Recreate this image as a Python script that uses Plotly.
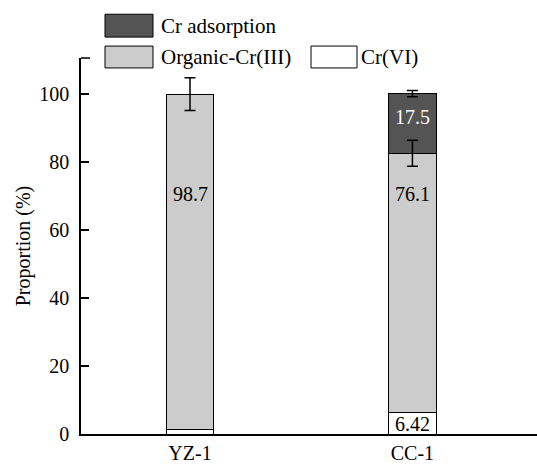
import plotly.graph_objects as go

categories = ["YZ-1", "CC-1"]
cr6 = [1.2, 6.42]
organic = [98.7, 76.1]
adsorption = [0, 17.5]
organic_err = [4.8, 3.8]
adsorption_err = [0, 0.9]
cr6_labels = ["", "6.42"]
organic_labels = ["98.7", "76.1"]
adsorption_labels = ["", "17.5"]
yticks = [0, 20, 40, 60, 80, 100]

FONT = "Liberation Serif"
DARK = "#545454"
LIGHT = "#cccccc"
W, H = 537, 464
L, R, T, B = 81, 0, 58, 28
PW, PH = W - L - R, H - T - B
FS = 20

def px(x):
    return (x - L) / PW

def py(y):
    return (H - B - y) / PH

fig = go.Figure()
bw = 0.212
fig.add_bar(x=categories, y=cr6, name="Cr(VI)", marker=dict(color="white", line=dict(color="black", width=1)), width=bw)
fig.add_bar(x=categories, y=organic, name="Organic-Cr(III)",
            marker=dict(color=LIGHT, line=dict(color="black", width=1)), width=bw)
fig.add_bar(x=categories, y=adsorption, name="Cr adsorption",
            marker=dict(color=DARK, line=dict(color="black", width=1)), width=bw)

# error bars drawn on top of all bars
org_top = [a + b for a, b in zip(cr6, organic)]
ads_top = [a + b for a, b in zip(org_top, adsorption)]
fig.add_scatter(x=categories, y=org_top, mode="markers", marker=dict(size=1, opacity=0),
                error_y=dict(type="data", array=organic_err, color="black", thickness=1.5, width=5.5),
                hoverinfo="skip")
ads_x = [c for c, e in zip(categories, adsorption_err) if e > 0]
ads_y = [t for t, e in zip(ads_top, adsorption_err) if e > 0]
ads_e = [e for e in adsorption_err if e > 0]
fig.add_scatter(x=ads_x, y=ads_y, mode="markers", marker=dict(size=1, opacity=0),
                error_y=dict(type="data", array=ads_e, color="black", thickness=1.5, width=5.5),
                hoverinfo="skip")

# value labels
for i, c in enumerate(categories):
    if organic_labels[i]:
        fig.add_annotation(x=c, y=70.5, text=organic_labels[i], showarrow=False, font=dict(family=FONT, size=FS, color="black"))
    if adsorption_labels[i]:
        fig.add_annotation(x=c, y=org_top[i] + adsorption[i] / 2 + 1.8, text=adsorption_labels[i], showarrow=False, font=dict(family=FONT, size=FS, color="white"))
    if cr6_labels[i]:
        fig.add_annotation(x=c, y=cr6[i] / 2 - 0.2, text=cr6_labels[i], showarrow=False, font=dict(family=FONT, size=FS, color="black"))

# custom legend
legend_items = [
    ("Cr adsorption", DARK, 105, 153, 14, 37, 6),
    ("Organic-Cr(III)", LIGHT, 105, 153, 46, 68, 6),
    ("Cr(VI)", "white", 311, 357, 46, 68, 2),
]
for name, col, x0, x1, y0, y1, gap in legend_items:
    fig.add_shape(type="rect", xref="paper", yref="paper", x0=px(x0), x1=px(x1), y0=py(y1), y1=py(y0),
                  fillcolor=col, line=dict(color="black", width=1))
    fig.add_annotation(xref="paper", yref="paper", x=px(x1 + gap), y=py((y0 + y1) / 2), text=name,
                       showarrow=False, xanchor="left", yanchor="middle", font=dict(family=FONT, size=21, color="black"))

# top tick mark on y axis
fig.add_shape(type="line", xref="paper", yref="paper", x0=0, x1=px(L + 9), y0=1, y1=1, line=dict(color="black", width=1.5))

fig.update_layout(
    width=W, height=H, barmode="stack", showlegend=False,
    margin=dict(l=L, r=R, t=T, b=B),
    plot_bgcolor="white", paper_bgcolor="white",
    font=dict(family=FONT, size=FS, color="black"),
    xaxis=dict(range=[-0.49, 1.56], showline=True, linecolor="black", linewidth=1.5, ticks="",
               tickfont=dict(family=FONT, size=FS), showgrid=False, zeroline=False),
    yaxis=dict(range=[0, 110.5], tickvals=yticks, showline=True, linecolor="black", linewidth=1.5,
               ticks="inside", ticklen=8, tickwidth=1.5, tickcolor="black", ticklabelstandoff=6,
               tickfont=dict(family=FONT, size=FS), showgrid=False, zeroline=False,
               title=dict(text="Proportion (%)", font=dict(family=FONT, size=FS), standoff=3)),
)

fig.write_html("out.html")
